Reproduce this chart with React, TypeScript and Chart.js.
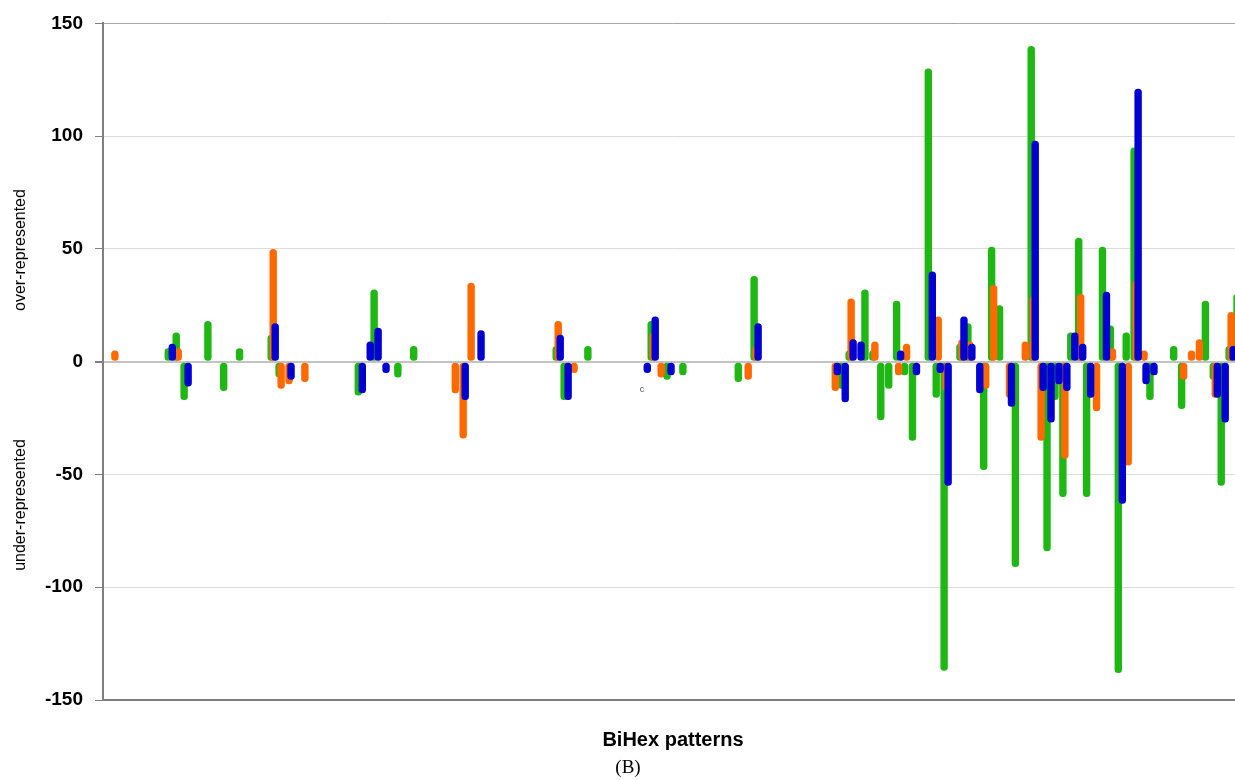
import { useEffect, useRef } from 'react';
import { Chart, registerables } from 'chart.js';

Chart.register(...registerables);

// Category slots (BiHex pattern index) – the plot shows 144 slots, the last one cut at the right edge
const CATEGORY_COUNT = 144;
const categories: string[] = Array.from({ length: CATEGORY_COUNT }, (_, i) => String(i + 1));

// [pattern index, value] pairs for each series (only non-empty patterns)
const greenBars: [number, number][] = [
  [8, 6], [9, 13], [10, -17], [13, 18], [15, -13], [17, 6], [21, 12], [22, -7],
  [32, -15], [34, 32], [37, -7], [39, 7], [57, 7], [58, -17], [61, 7],
  [69, 18], [71, -8], [73, -6], [80, -9], [82, 38],
  [93, -12], [94, 5], [96, 32], [97, 5], [98, -26], [99, -12], [100, 27], [101, -6],
  [102, -35], [104, 130], [105, -16], [106, -137], [108, 8], [109, 17], [111, -48],
  [112, 51], [113, 25], [115, -91], [117, 140], [119, -84], [120, -17], [121, -60],
  [122, 13], [123, 55], [124, -60], [126, 51], [127, 16], [128, -138], [129, 13],
  [130, 95], [132, -17], [135, 7], [136, -21], [139, 27], [140, -8], [141, -55],
  [142, 7], [143, 30],
];

const orangeBars: [number, number][] = [
  [1, 5], [9, 6], [21, 50], [22, -12], [23, -10], [25, -9], [44, -14], [45, -34],
  [46, 35], [57, 18], [59, -5], [69, 13], [70, -7], [81, -8], [82, 7],
  [92, -13], [94, 28], [97, 9], [100, -6], [101, 8], [105, 20], [106, -13],
  [108, 10], [109, 9], [111, -12], [112, 34], [114, -16], [116, 9], [117, 29],
  [118, -35], [121, -43], [123, 30], [125, -22], [127, 6], [129, -46], [130, 36],
  [131, 5], [136, -8], [137, 5], [138, 10], [140, -16], [142, 22],
];

const blueBars: [number, number][] = [
  [8, 8], [10, -11], [21, 17], [23, -8], [32, -14], [33, 9], [34, 15], [35, -5],
  [45, -17], [47, 14], [57, 12], [58, -17], [68, -5], [69, 20], [71, -6], [82, 17],
  [92, -6], [93, -18], [94, 10], [95, 9], [100, 5], [102, -6], [104, 40], [105, -5],
  [106, -55], [108, 20], [109, 8], [110, -14], [114, -20], [117, 98], [118, -13],
  [119, -27], [120, -10], [121, -13], [122, 13], [123, 8], [124, -16], [126, 31],
  [128, -63], [130, 121], [131, -10], [132, -6], [140, -16], [141, -27], [142, 7],
];

const Y_MIN = -150;
const Y_MAX = 150;
const Y_STEP = 50;

const GREEN = '#1fb714';
const ORANGE = '#ff6a00';
const BLUE = '#0000d2';

function toSeries(pairs: [number, number][]): (number | null)[] {
  const out: (number | null)[] = new Array(CATEGORY_COUNT).fill(null);
  pairs.forEach(([idx, v]) => {
    out[idx] = v;
  });
  return out;
}

const textPlugin = {
  id: 'extraTexts',
  afterDraw(chart: any) {
    const { ctx } = chart;
    ctx.save();
    ctx.fillStyle = '#000';
    ctx.textAlign = 'center';
    ctx.textBaseline = 'middle';
    ctx.font = '16px "Liberation Sans", Arial, sans-serif';
    ctx.save();
    ctx.translate(21, 250);
    ctx.rotate(-Math.PI / 2);
    ctx.fillText('over-represented', 0, 0);
    ctx.restore();
    ctx.save();
    ctx.translate(21, 505);
    ctx.rotate(-Math.PI / 2);
    ctx.fillText('under-represented', 0, 0);
    ctx.restore();
    // stray label inside the plot
    ctx.fillStyle = '#555';
    ctx.font = '9px "Liberation Sans", Arial, sans-serif';
    ctx.fillText('c', 642, 390);
    // figure caption
    ctx.fillStyle = '#000';
    ctx.font = '19px "Liberation Serif", "Times New Roman", serif';
    ctx.fillText('(B)', 628, 768);
    ctx.restore();
  },
};

export default function App() {
  const canvasRef = useRef<HTMLCanvasElement | null>(null);

  useEffect(() => {
    const canvas = canvasRef.current;
    if (!canvas) return;
    const barCommon = {
      borderRadius: 3.5,
      borderSkipped: false as const,
      categoryPercentage: -0.758,
      barPercentage: -3.7,
    };
    const chart = new Chart(canvas, {
      type: 'bar',
      data: {
        labels: categories,
        datasets: [
          // first dataset is drawn on top and placed rightmost in each slot
          { label: 'blue', data: toSeries(blueBars), backgroundColor: BLUE, ...barCommon },
          { label: 'orange', data: toSeries(orangeBars), backgroundColor: ORANGE, ...barCommon },
          { label: 'green', data: toSeries(greenBars), backgroundColor: GREEN, ...barCommon },
        ],
      },
      options: {
        animation: false,
        responsive: false,
        maintainAspectRatio: false,
        devicePixelRatio: 1,
        layout: { padding: { top: 20, left: 0, right: 0, bottom: 0 } },
        plugins: {
          legend: { display: false },
          tooltip: { enabled: false },
          title: { display: false },
        },
        scales: {
          x: {
            type: 'category',
            offset: true,
            grid: { display: false, drawTicks: false },
            border: { display: true, color: '#7f7f7f', width: 2 },
            ticks: { display: false },
            title: {
              display: true,
              text: 'BiHex patterns',
              color: '#000',
              font: { family: '"Liberation Sans", Arial, sans-serif', size: 20, weight: 'bold' },
              padding: { top: 0, bottom: 28 },
            },
            afterFit: (s: any) => {
              s.height = 80;
            },
          },
          y: {
            min: Y_MIN,
            max: Y_MAX,
            ticks: {
              stepSize: Y_STEP,
              color: '#000',
              padding: 12,
              font: { family: '"Liberation Sans", Arial, sans-serif', size: 19, weight: 'bold' },
            },
            grid: {
              color: (c: any) => {
                const v = c.tick ? c.tick.value : null;
                if (v === 0) return '#c3c3c3';
                if (v === Y_MAX) return '#a6a6a6';
                return '#dcdcdc';
              },
              lineWidth: (c: any) => (c.tick && c.tick.value === 0 ? 2 : 1),
              tickColor: '#7f7f7f',
              tickLength: 8,
            },
            border: { display: true, color: '#7f7f7f', width: 2 },
            afterFit: (s: any) => {
              s.width = 103;
            },
          },
        },
      },
      plugins: [textPlugin],
    });
    return () => chart.destroy();
  }, []);

  return (
    <div
      style={{
        position: 'fixed',
        left: 0,
        top: 0,
        width: 1235,
        height: 780,
        overflow: 'hidden',
        background: '#fff',
      }}
    >
      <canvas ref={canvasRef} width={1243} height={780} style={{ display: 'block' }} />
    </div>
  );
}
